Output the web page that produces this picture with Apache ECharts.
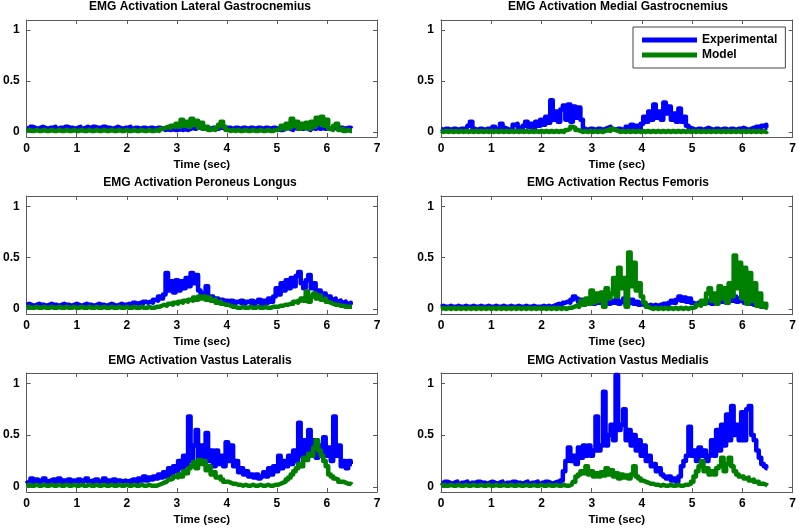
<!DOCTYPE html>
<html>
<head>
<meta charset="utf-8">
<script src="https://cdn.jsdelivr.net/npm/echarts@6/dist/echarts.min.js"></script>
<style>html,body{margin:0;padding:0;background:#fff}#c{width:799px;height:530px}</style>
</head>
<body>
<div id="c"></div>
<script>
const dt = 0.05;
const xTicks = [0, 1, 2, 3, 4, 5, 6, 7];
const yTicks = [0, 0.5, 1];
const titles = [
  'EMG Activation Lateral Gastrocnemius',
  'EMG Activation Medial Gastrocnemius',
  'EMG Activation Peroneus Longus',
  'EMG Activation Rectus Femoris',
  'EMG Activation Vastus Lateralis',
  'EMG Activation Vastus Medialis'
];
const seriesNames = ['Experimental', 'Model'];
const xLabel = 'Time (sec)';

const lgExp = [
.04,.03,.05,.04,.03,.04,.05,.04,.03,.04,.04,.05,.03,.04,.04,.03,.05,.04,.04,.03,
.04,.05,.03,.04,.05,.04,.03,.05,.04,.04,.03,.05,.04,.04,.03,.04,.05,.04,.03,.04,
.04,.05,.03,.04,.04,.03,.04,.04,.03,.04,.04,.03,.04,.04,.03,.02,.03,.02,.03,.02,
.02,.03,.02,.03,.02,.03,.04,.03,.04,.04,.03,.04,.04,.03,.04,.04,.03,.04,.04,.03,
.04,.04,.03,.04,.04,.03,.04,.04,.03,.04,.04,.03,.04,.04,.03,.04,.04,.03,.04,.04,
.03,.04,.02,.03,.04,.03,.02,.04,.03,.04,.03,.04,.03,.02,.04,.03,.04,.03,.04,.03,
.04,.03,.04,.04,.03,.04,.04,.03,.04,.04,.03];
const lgMod = [
.01,.02,.01,.01,.02,.01,.01,.02,.01,.01,.02,.01,.01,.02,.01,.01,.02,.01,.01,.02,
.01,.01,.02,.01,.01,.02,.01,.01,.02,.01,.01,.02,.01,.01,.02,.01,.01,.02,.01,.01,
.02,.01,.01,.02,.01,.01,.02,.01,.01,.02,.01,.01,.02,.01,.03,.04,.05,.04,.06,.05,
.08,.05,.12,.06,.10,.05,.13,.07,.11,.04,.09,.03,.05,.02,.03,.02,.04,.07,.10,.05,
.02,.01,.02,.01,.02,.01,.01,.02,.01,.01,.02,.01,.01,.02,.01,.01,.02,.01,.01,.02,
.02,.03,.06,.03,.08,.04,.13,.06,.10,.03,.08,.04,.09,.03,.10,.05,.14,.08,.15,.06,
.12,.03,.02,.06,.08,.02,.03,.01,.02,.01,.01];
const mgExp = [
.03,.02,.03,.03,.02,.03,.03,.02,.03,.03,.02,.06,.10,.03,.02,.03,.03,.02,.03,.03,
.03,.05,.03,.04,.08,.04,.03,.02,.03,.07,.08,.04,.03,.06,.10,.05,.08,.04,.10,.06,
.12,.07,.15,.09,.31,.12,.20,.10,.22,.26,.12,.27,.10,.25,.14,.24,.12,.03,.02,.03,
.03,.02,.03,.03,.02,.03,.04,.05,.03,.02,.03,.03,.02,.03,.05,.03,.07,.04,.06,.03,
.08,.15,.10,.20,.12,.27,.14,.20,.12,.29,.18,.25,.12,.18,.10,.23,.10,.15,.06,.04,
.03,.02,.03,.03,.02,.03,.04,.03,.02,.03,.03,.02,.03,.03,.02,.03,.03,.02,.03,.03,
.04,.03,.02,.03,.04,.03,.05,.04,.06,.07,.04];
const mgMod = [
.01,.00,.01,.00,.01,.00,.01,.00,.01,.00,.01,.00,.01,.00,.01,.00,.01,.00,.01,.00,
.01,.00,.01,.00,.01,.00,.01,.00,.01,.00,.01,.00,.01,.00,.01,.00,.01,.00,.01,.00,
.01,.00,.01,.00,.01,.00,.01,.00,.01,.00,.02,.03,.05,.04,.02,.01,.00,.01,.00,.01,
.00,.01,.00,.01,.00,.01,.02,.01,.03,.02,.01,.00,.01,.00,.01,.00,.01,.00,.01,.00,
.01,.00,.01,.00,.01,.00,.01,.00,.01,.00,.01,.00,.01,.00,.01,.00,.01,.00,.01,.00,
.01,.00,.01,.00,.01,.00,.01,.00,.01,.00,.01,.00,.01,.00,.01,.00,.01,.00,.01,.00,
.01,.00,.01,.00,.01,.00,.01,.00,.01,.00,.01];
const plExp = [
.04,.05,.04,.03,.04,.05,.04,.04,.03,.04,.05,.04,.04,.03,.04,.05,.04,.04,.03,.04,
.05,.04,.03,.04,.05,.04,.04,.03,.04,.05,.04,.04,.03,.04,.05,.04,.03,.04,.05,.04,
.04,.05,.04,.06,.05,.06,.05,.07,.06,.07,.06,.09,.08,.12,.10,.14,.35,.18,.27,.16,
.28,.18,.27,.20,.30,.22,.35,.25,.33,.18,.15,.12,.22,.10,.12,.08,.10,.07,.09,.06,
.08,.06,.08,.05,.07,.06,.08,.05,.07,.06,.08,.05,.07,.09,.05,.08,.06,.10,.07,.12,
.20,.14,.25,.18,.28,.20,.30,.22,.32,.36,.25,.20,.28,.33,.20,.25,.15,.18,.12,.15,
.10,.12,.09,.10,.07,.08,.06,.07,.05,.06,.04];
const plMod = [
.01,.02,.01,.01,.02,.01,.01,.02,.01,.01,.02,.01,.01,.02,.01,.01,.02,.01,.01,.02,
.01,.01,.02,.01,.01,.02,.01,.01,.02,.01,.01,.02,.01,.01,.02,.01,.01,.02,.01,.01,
.02,.01,.01,.02,.01,.01,.02,.01,.01,.02,.01,.01,.02,.02,.03,.04,.03,.05,.04,.06,
.05,.07,.06,.08,.07,.09,.08,.11,.09,.12,.10,.12,.09,.11,.08,.09,.06,.07,.05,.04,
.04,.03,.02,.02,.01,.01,.02,.01,.01,.02,.01,.01,.02,.01,.01,.02,.01,.01,.02,.02,
.02,.03,.03,.04,.04,.05,.05,.07,.06,.08,.10,.08,.17,.07,.12,.15,.10,.13,.09,.10,
.07,.06,.05,.04,.04,.03,.03,.02,.02,.02,.02];
const rfExp = [
.02,.03,.02,.02,.03,.02,.02,.03,.02,.02,.03,.02,.02,.03,.02,.02,.03,.02,.02,.03,
.02,.02,.03,.02,.02,.03,.02,.02,.03,.02,.02,.03,.02,.02,.03,.02,.02,.03,.02,.02,
.02,.03,.02,.03,.02,.03,.04,.05,.04,.06,.07,.06,.09,.12,.10,.07,.09,.06,.08,.05,
.07,.05,.08,.06,.09,.06,.10,.05,.08,.06,.09,.05,.07,.10,.04,.06,.09,.05,.07,.04,
.06,.04,.03,.04,.03,.04,.03,.04,.03,.05,.04,.06,.08,.06,.09,.12,.08,.11,.07,.10,
.06,.05,.04,.06,.05,.07,.06,.08,.05,.09,.06,.10,.07,.08,.06,.10,.08,.12,.07,.10,
.08,.06,.07,.05,.06,.04,.03,.02,.03,.02,.02];
const rfMod = [
.00,.01,.00,.01,.00,.01,.00,.01,.00,.01,.00,.01,.00,.01,.00,.01,.00,.01,.00,.01,
.00,.01,.00,.01,.00,.01,.00,.01,.00,.01,.00,.01,.00,.01,.00,.01,.00,.01,.00,.01,
.00,.01,.00,.01,.00,.01,.00,.01,.00,.01,.00,.01,.01,.02,.03,.02,.08,.04,.10,.05,
.18,.06,.15,.08,.16,.02,.20,.10,.15,.30,.12,.40,.20,.30,.02,.55,.22,.45,.18,.25,
.12,.06,.02,.01,.00,.01,.00,.01,.00,.01,.00,.01,.00,.01,.00,.01,.00,.01,.00,.01,
.01,.02,.04,.03,.08,.05,.15,.20,.08,.15,.05,.22,.10,.20,.06,.25,.12,.52,.20,.45,
.10,.40,.05,.35,.08,.25,.03,.15,.02,.05,.01];
const vlExp = [
.06,.04,.08,.05,.07,.04,.06,.08,.05,.06,.04,.07,.05,.08,.04,.06,.05,.07,.04,.06,
.05,.07,.04,.06,.08,.05,.06,.04,.07,.05,.06,.08,.04,.06,.05,.07,.04,.06,.05,.06,
.05,.06,.04,.07,.05,.08,.06,.10,.06,.09,.07,.10,.08,.12,.09,.14,.10,.18,.12,.20,
.15,.25,.18,.30,.20,.68,.25,.40,.55,.25,.40,.22,.52,.25,.35,.20,.35,.22,.30,.20,
.43,.25,.40,.20,.25,.14,.18,.12,.15,.10,.12,.09,.12,.08,.10,.14,.10,.18,.12,.20,
.15,.30,.18,.25,.20,.30,.22,.35,.25,.62,.30,.45,.30,.55,.35,.45,.28,.40,.30,.48,
.30,.38,.25,.68,.30,.40,.20,.25,.18,.25,.22];
const vlMod = [
.01,.02,.01,.01,.02,.01,.01,.02,.01,.01,.02,.01,.01,.02,.01,.01,.02,.01,.01,.02,
.01,.01,.02,.01,.01,.02,.01,.01,.02,.01,.01,.02,.01,.01,.02,.01,.01,.02,.01,.01,
.02,.01,.01,.02,.01,.01,.02,.01,.01,.02,.01,.01,.01,.02,.03,.04,.05,.07,.08,.10,
.09,.12,.10,.15,.13,.18,.20,.24,.18,.26,.22,.25,.16,.20,.12,.14,.09,.10,.07,.05,
.05,.04,.03,.03,.02,.02,.01,.02,.01,.01,.02,.01,.01,.02,.01,.01,.02,.01,.01,.02,
.02,.03,.04,.05,.07,.09,.12,.15,.18,.22,.20,.28,.26,.32,.30,.38,.45,.35,.30,.25,
.20,.12,.10,.08,.07,.05,.05,.04,.03,.03,.02];
const vmExp = [
.04,.03,.05,.04,.03,.04,.05,.03,.04,.04,.05,.03,.04,.04,.03,.05,.04,.04,.03,.04,
.05,.04,.03,.04,.05,.03,.04,.04,.03,.05,.04,.04,.03,.04,.05,.03,.04,.04,.05,.03,
.04,.03,.05,.04,.03,.04,.05,.04,.06,.15,.25,.38,.25,.30,.22,.38,.28,.40,.30,.40,
.30,.35,.68,.35,.40,.92,.40,.50,.60,.45,1.08,.55,.60,.75,.45,.55,.40,.50,.35,.45,
.30,.40,.25,.30,.20,.22,.15,.18,.12,.10,.08,.10,.06,.08,.05,.10,.20,.25,.30,.58,
.30,.35,.25,.38,.30,.35,.25,.30,.45,.30,.55,.35,.60,.40,.70,.45,.78,.50,.60,.45,
.72,.45,.75,.78,.50,.45,.35,.28,.22,.20,.18];
const vmMod = [
.01,.02,.01,.01,.02,.01,.01,.02,.01,.01,.02,.01,.01,.02,.01,.01,.02,.01,.01,.02,
.01,.01,.02,.01,.01,.02,.01,.01,.02,.01,.01,.02,.01,.01,.02,.01,.01,.02,.01,.01,
.02,.01,.01,.02,.01,.01,.02,.01,.01,.02,.01,.01,.02,.05,.10,.12,.15,.13,.20,.12,
.15,.10,.13,.10,.14,.11,.18,.12,.16,.10,.13,.08,.12,.09,.11,.08,.12,.20,.10,.08,
.06,.05,.04,.03,.03,.02,.02,.01,.02,.01,.01,.02,.01,.01,.02,.01,.01,.02,.02,.03,
.05,.10,.15,.20,.25,.15,.18,.12,.15,.12,.18,.20,.28,.15,.22,.28,.20,.15,.12,.10,
.10,.08,.09,.06,.07,.05,.05,.03,.03,.02,.01];

const panels = [
  [lgExp, lgMod], [mgExp, mgMod],
  [plExp, plMod], [rfExp, rfMod],
  [vlExp, vlMod], [vmExp, vmMod]
];

// ---- layout / style ----
const FONT = '"Liberation Sans", Arial, Helvetica, sans-serif';
const AX = '#5a5a5a';
const BLUE = '#0000ff';
const GREEN = '#008000';
const layout = [
  {left: 23, top: 20, height: 117, titleTop: 1},
  {left: 441, top: 20, height: 117, titleTop: 1},
  {left: 23, top: 196, height: 118, titleTop: 177},
  {left: 441, top: 196, height: 118, titleTop: 177},
  {left: 23, top: 373, height: 119, titleTop: 355},
  {left: 441, top: 373, height: 119, titleTop: 355}
];
const W = 354;

const toPairs = arr => arr.map((v, i) => [+(i * dt).toFixed(2), v]);

const option = {
  animation: false,
  backgroundColor: '#fff',
  title: [], grid: [], xAxis: [], yAxis: [], series: [],
  legend: {
    data: seriesNames,
    orient: 'vertical',
    left: 633, top: 27,
    padding: [7, 8, 7, 9],
    itemGap: 3,
    itemWidth: 55, itemHeight: 5,
    icon: 'rect',
    borderColor: '#444', borderWidth: 1,
    backgroundColor: '#fff',
    textStyle: {fontFamily: FONT, fontSize: 12, fontWeight: 'bold', color: '#000'},
    selectedMode: false,
    z: 20
  }
};

layout.forEach((L, i) => {
  option.title.push({
    text: titles[i],
    left: L.left + W / 2, top: L.titleTop,
    textAlign: 'center',
    padding: 0,
    textStyle: {fontFamily: FONT, fontSize: 12, fontWeight: 'bold', color: '#000'}
  });
  option.grid.push({left: L.left, top: L.top, width: W, height: L.height, containLabel: false});
  const axisLine = {show: true, onZero: false, lineStyle: {color: AX, width: 1}};
  const tick = {show: true, inside: true, length: 4, lineStyle: {color: AX}};
  option.xAxis.push({
    type: 'value', gridIndex: i, position: 'bottom', min: 0, max: 7, interval: 1,
    axisLine, axisTick: tick, splitLine: {show: false},
    axisLabel: {show: true, margin: 6, fontFamily: FONT, fontSize: 12, fontWeight: 'bold', color: '#000',
      customValues: xTicks},
    name: xLabel, nameLocation: 'middle', nameGap: 22,
    nameTextStyle: {fontFamily: FONT, fontSize: 11.5, fontWeight: 'bold', color: '#000'}
  });
  option.xAxis.push({
    type: 'value', gridIndex: i, position: 'top', min: 0, max: 7, interval: 1,
    axisLine, axisTick: tick, splitLine: {show: false}, axisLabel: {show: false}
  });
  option.yAxis.push({
    type: 'value', gridIndex: i, position: 'left', min: -0.05, max: 1.1,
    axisLine, splitLine: {show: false},
    axisTick: Object.assign({}, tick, {customValues: yTicks}),
    axisLabel: {show: true, margin: 7, fontFamily: FONT, fontSize: 12, fontWeight: 'bold', color: '#000',
      customValues: yTicks, formatter: v => String(v)}
  });
  option.yAxis.push({
    type: 'value', gridIndex: i, position: 'right', min: -0.05, max: 1.1,
    axisLine, splitLine: {show: false},
    axisTick: Object.assign({}, tick, {customValues: yTicks}),
    axisLabel: {show: false}
  });
  const [exp, mod] = panels[i];
  option.series.push({
    name: seriesNames[0], type: 'line', xAxisIndex: 2 * i, yAxisIndex: 2 * i,
    data: toPairs(exp), showSymbol: false, symbol: 'none', step: 'middle',
    lineStyle: {color: BLUE, width: 4.5, join: 'round'}, itemStyle: {color: BLUE}, z: 2
  });
  option.series.push({
    name: seriesNames[1], type: 'line', xAxisIndex: 2 * i, yAxisIndex: 2 * i,
    data: toPairs(mod), showSymbol: false, symbol: 'none', step: 'middle',
    lineStyle: {color: GREEN, width: 4.5, join: 'round'}, itemStyle: {color: GREEN}, z: 3
  });
});

const chart = echarts.init(document.getElementById('c'), null, {renderer: 'canvas'});
chart.setOption(option);
</script>
</body>
</html>
